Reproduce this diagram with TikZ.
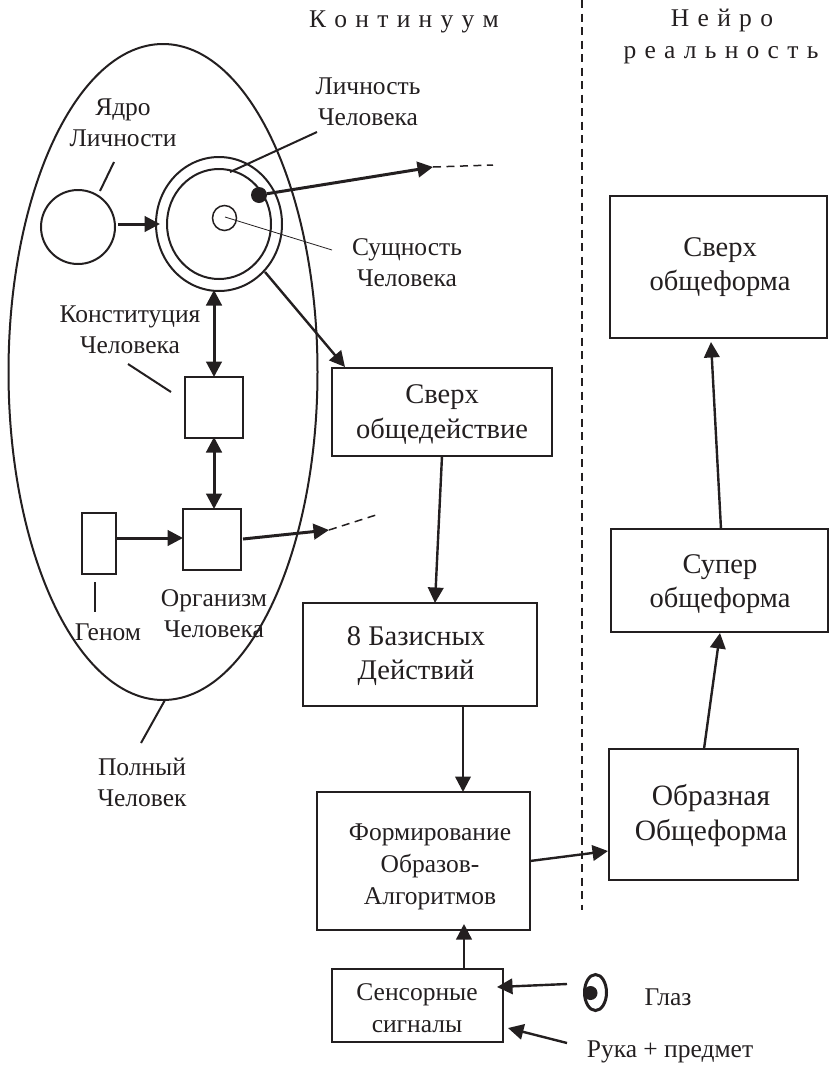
\documentclass[tikz,border=0pt]{standalone}
\usepackage{fontspec}
\setmainfont{Liberation Serif}
\newfontfamily\spacedfont[WordSpace=1.3]{Liberation Serif}
\usetikzlibrary{arrows.meta,shapes.geometric}
\definecolor{ink}{HTML}{231F20}
\tikzset{
 x=1pt,y=-1pt,
 every node/.style={inner sep=0pt,outer sep=0pt},
 txt/.style={align=center,font=\fontsize{25.5}{31}\selectfont,text=ink},
 bigtxt/.style={align=center,font=\fontsize{28.5}{34.5}\selectfont,text=ink},
 midtxt/.style={align=center,font=\fontsize{25.5}{32}\selectfont,text=ink},
 sptxt/.style={font=\spacedfont\fontsize{25.5}{31}\selectfont,text=ink},
 box/.style={draw=ink,line width=2pt,fill=white,anchor=north west},
 circ/.style={ellipse,draw=ink,line width=2pt},
 arr/.style={draw=ink,line width=3pt,-{Triangle[length=15.5pt,width=15.5pt]}},
 arrb/.style={draw=ink,line width=2.4pt,-{Triangle[length=15.5pt,width=15.5pt]}},
 dbl/.style={draw=ink,line width=3pt,{Triangle[length=15.5pt,width=15.5pt]}-{Triangle[length=15.5pt,width=15.5pt]}},
 lead/.style={draw=ink,line width=2pt},
 thin lead/.style={draw=ink,line width=0.8pt},
 dash line/.style={draw=ink,line width=1.5pt,dash pattern=on 8pt off 5.5pt},
}
\newcommand{\boxat}[5]{\node[box,minimum width=#4pt,minimum height=#5pt] (#1) at (#2,#3) {};}
\begin{document}
\begin{tikzpicture}
\useasboundingbox (0,0) rectangle (828,1066);
% large egg
\node[circ,minimum width=309pt,minimum height=656pt] (whole) at (163,372) {};
% circles
\node[circ,minimum width=126pt,minimum height=134pt] (outer) at (219,224) {};
\node[circ,minimum width=104pt,minimum height=110pt] (inner) at (219,224) {};
\node[circ,line width=1.5pt,minimum width=24pt,minimum height=25pt] (essence) at (224.5,218) {};
\node[circ,minimum width=74pt,minimum height=74pt] (core) at (78,227) {};
\node[circle,fill=ink,minimum size=16pt] (dot) at (259,195) {};
% boxes
\boxat{constbox}{185}{377}{58}{61}
\boxat{orgbox}{183}{509}{58}{61}
\boxat{genbox}{82}{513}{34}{61}
\node[box,line width=2.6pt,minimum width=220pt,minimum height=88pt] (over) at (332,368) {};
\boxat{base}{303}{603}{234}{103}
\boxat{form}{317}{792}{213}{138}
\boxat{sens}{332}{969}{171}{73}
\boxat{image}{609}{749}{189}{131}
\boxat{super}{611}{529}{217}{103}
\boxat{top}{610}{196}{217}{142}
% texts
\node[sptxt] (t1) at (404,22) {К о н т и н у у м};
\node[sptxt] (t2) at (722,20) {Н е й р о};
\node[sptxt] (t3) at (721,55) {р е а л ь н о с т ь};
\node[txt] (t4) at (368,102) {Личность\\Человека};
\node[txt] (t5) at (123,123) {Ядро\\Личности};
\node[txt] (t6) at (407,263) {Сущность\\Человека};
\node[txt] (t7) at (130,330) {Конституция\\Человека};
\node[bigtxt] at (442,414.5) {Сверх\\общедействие};
\node[bigtxt] at (720,267) {Сверх\\общеформа};
\node[bigtxt] at (720,584) {Супер\\общеформа};
\node[bigtxt,font=\fontsize{29.5}{35}\selectfont] at (711,816) {Образная\\Общеформа};
\node[bigtxt] at (416,656) {8 Базисных\\Действий};
\node[midtxt] at (430,867) {Формирование\\Образов-\\Алгоритмов};
\node[midtxt] at (417,1008) {Сенсорные\\сигналы};
\node[txt] (t8) at (108,632) {Геном};
\node[txt] (t9) at (214,613.5) {Организм\\Человека};
\node[txt] (t10) at (142,782) {Полный\\Человек};
\node[txt] at (668,997) {Глаз};
\node[txt] (hand) at (670,1052) {Рука + предмет};
% eye
\node[circ,line width=3pt,minimum width=22pt,minimum height=36pt] (eye) at (595.5,992.5) {};
\node[circle,fill=ink,minimum size=14pt] (pupil) at (590.5,993) {};
% free coordinates
\coordinate (d1a) at (433,167); \coordinate (d1b) at (493,165);
\coordinate (d2a) at (329,530); \coordinate (d2b) at (376,515);
\coordinate (div1) at (582,0); \coordinate (div2) at (582,910);
% connectors
\draw[arr] (118,224) -- (160,224);
\draw[arr] (dot) -- (d1a);
\draw[dash line] (d1a) -- (d1b);
\draw[dbl] (214,290) -- (214,377);
\draw[dbl] (214,437) -- (214,509);
\draw[arr] (117,538) -- (183,538);
\draw[arr] (243,539) -- (d2a);
\draw[dash line] (d2a) -- (d2b);
\draw[arrb] (265,272) -- (345,367);
\draw[arrb] (442,456) -- (435,603);
\draw[arrb] (463,706) -- (463,792);
\draw[arrb] (530,861) -- (608,851);
\draw[arrb] (464,969) -- (464,924);
\draw[arrb] (567,984) -- (497,987);
\draw[arrb] (567,1043) -- (508,1028);
\draw[arrb] (704,749) -- (720,633);
\draw[arrb] (721,529) -- (711,342);
\draw[dash line,line width=1.7pt] (div1) -- (div2);
% leaders
\draw[lead] (114,162) -- (100,191);
\draw[lead] (317,132) -- (230,172);
\draw[thin lead] (225,217) -- (332,250);
\draw[lead] (128,364) -- (171,392);
\draw[lead,line width=1.3pt] (95,582) -- (95,612);
\draw[lead] (165,700) -- (141,743);
\end{tikzpicture}
\end{document}
